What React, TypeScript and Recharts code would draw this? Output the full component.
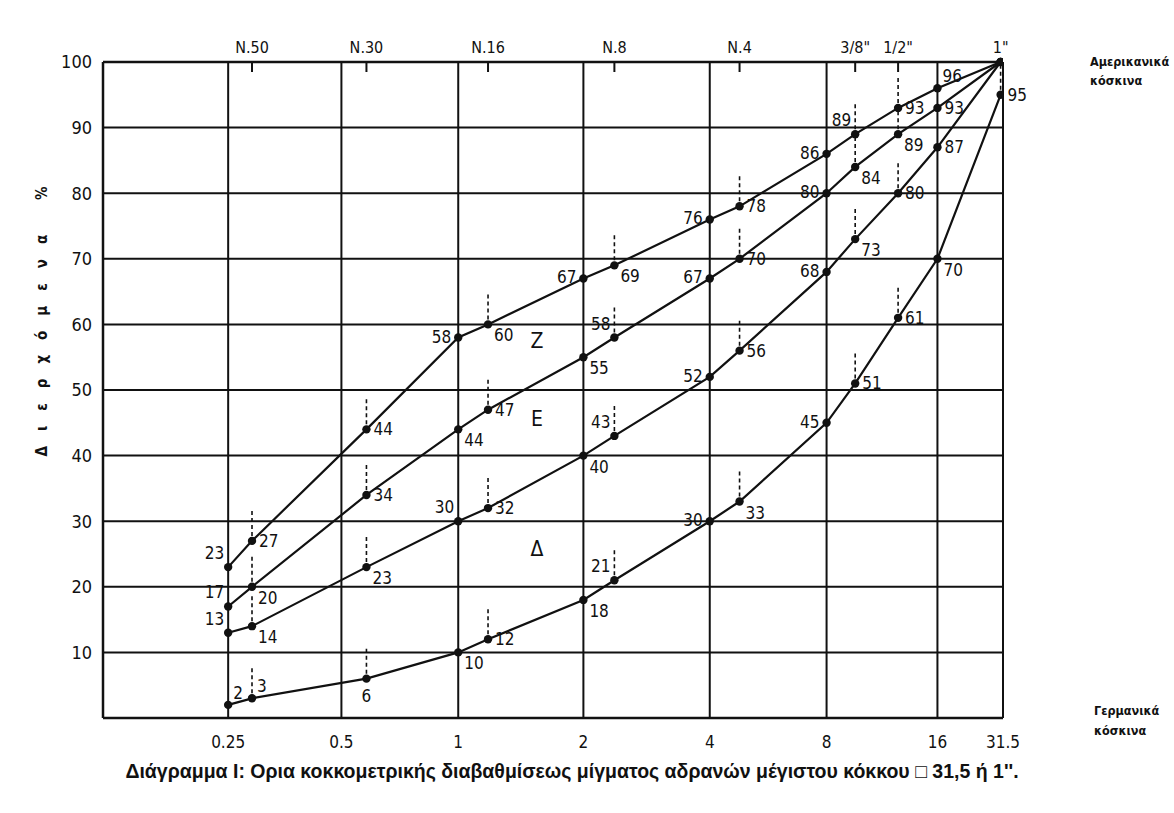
import { LineChart, Line, XAxis, YAxis, CartesianGrid, ReferenceDot } from 'recharts';

// German sieves (mm) along the bottom, and their place on the drawn (hand-made, log-like) axis
const DE_LABELS = ['0.25', '0.5', '1', '2', '4', '8', '16', '31.5'];
const DE_POS = [1.05, 2, 2.98, 4.03, 5.09, 6.07, 7, 7.55];

// American sieves along the top
const US_LABELS = ['N.50', 'N.30', 'N.16', 'N.8', 'N.4', '3/8"', '1/2"', '1"'];
const US_POS = [1.25, 2.21, 3.23, 4.29, 5.34, 6.31, 6.67, 7.53];

const Y_TICKS = [0, 10, 20, 30, 40, 50, 60, 70, 80, 90, 100];

// sieve of every point on the curves, left to right
const POINT_SIEVES = ['0.25', 'N.50', 'N.30', '1', 'N.16', '2', 'N.8', '4', 'N.4', '8', '3/8"', '1/2"', '16', '1"'];

// % passing for the four limit curves (top to bottom)
const CURVE_1 = [23, 27, 44, 58, 60, 67, 69, 76, 78, 86, 89, 93, 96, 100];
const CURVE_2 = [17, 20, 34, 44, 47, 55, 58, 67, 70, 80, 84, 89, 93, 100];
const CURVE_3 = [13, 14, 23, 30, 32, 40, 43, 52, 56, 68, 73, 80, 87, 100];
const CURVE_4 = [2, 3, 6, 10, 12, 18, 21, 30, 33, 45, 51, 61, 70, 95];

// zone letters between the curves
const ZONES = [
  { name: 'Z', x: 3.64, y: 57.5 },
  { name: 'E', x: 3.64, y: 45.7 },
  { name: 'Δ', x: 3.64, y: 25.8 },
];

// where each point's number sits (L left, R right, A above, B below)
const LABEL_PLACEMENT: Record<string, string[]> = {
  c1: ['LA', 'R', 'R', 'L', 'RB', 'L', 'RB', 'L', 'R', 'L', 'LA', 'R', 'RA', '-'],
  c2: ['LA', 'RB', 'R', 'RB', 'R', 'RB', 'LA', 'L', 'R', 'L', 'RB', 'RB', 'R', '-'],
  c3: ['LA', 'RB', 'RB', 'LA', 'R', 'RB', 'LA', 'L', 'R', 'L', 'RB', 'R', 'R', '-'],
  c4: ['RA', 'RA', 'B', 'RB', 'R', 'RB', 'LA', 'L', 'RB', 'L', 'R', 'R', 'RB', 'R'],
};

const sievePos = (s: string) => {
  const d = DE_LABELS.indexOf(s);
  if (d >= 0) return DE_POS[d];
  return US_POS[US_LABELS.indexOf(s)];
};

const data = POINT_SIEVES.map((s, i) => ({
  sieve: s,
  x: sievePos(s),
  c1: CURVE_1[i],
  c2: CURVE_2[i],
  c3: CURVE_3[i],
  c4: CURVE_4[i],
}));

const FONT = "'DejaVu Sans Condensed', 'Liberation Sans Narrow', Roboto, sans-serif";
const INK = '#111';

const renderDot = (props: any) => {
  const { cx, cy, index, payload, dataKey, value } = props;
  const v = Array.isArray(value) ? value[1] : value;
  const stub = US_LABELS.includes(payload.sieve) && v < 100;
  return (
    <g key={`${dataKey}-${index}`}>
      {stub && (
        <line x1={cx} x2={cx} y1={cy - 5} y2={cy - 30} stroke={INK} strokeWidth={1.6} strokeDasharray="4 3" />
      )}
      <circle cx={cx} cy={cy} r={4.2} fill={INK} />
    </g>
  );
};

const makeLabel = (key: string) => (props: any) => {
  const { x, y, value, index } = props;
  const place = LABEL_PLACEMENT[key][index];
  if (!place || place === '-') return null;
  let dx = 0, dy = 0, anchor: 'start' | 'end' | 'middle' = 'start';
  switch (place) {
    case 'L': dx = -7; dy = 5; anchor = 'end'; break;
    case 'LA': dx = -4; dy = -8; anchor = 'end'; break;
    case 'R': dx = 7; dy = 6; anchor = 'start'; break;
    case 'RB': dx = 6; dy = 17; anchor = 'start'; break;
    case 'RA': dx = 5; dy = -6; anchor = 'start'; break;
    case 'B': dx = 0; dy = 23; anchor = 'middle'; break;
    default: break;
  }
  return (
    <text key={`${key}-l-${index}`} x={x + dx} y={y + dy} textAnchor={anchor} fontSize={17} fontFamily={FONT} fill={INK}>
      {value}
    </text>
  );
};

const UsTick = (props: any) => {
  const { x, y, payload, index } = props;
  const i = typeof index === 'number' ? index : US_POS.indexOf(payload.value);
  return (
    <g>
      <text x={x} y={y - 9} textAnchor="middle" fontSize={16} fontFamily={FONT} fill={INK}>
        {US_LABELS[i]}
      </text>
      {i < US_LABELS.length - 1 && (
        <line x1={x} x2={x} y1={y} y2={y + 10} stroke={INK} strokeWidth={2} />
      )}
    </g>
  );
};

export default function App() {
  const series = ['c1', 'c2', 'c3', 'c4'];
  return (
    <div style={{ position: 'absolute', left: 0, top: 0, width: 1174, height: 813, background: '#fff' }}>
      <LineChart width={1174} height={813} data={data} margin={{ top: 32, right: 171, bottom: 65, left: 53 }}>
        <CartesianGrid xAxisId="de" stroke={INK} strokeWidth={2} />
        <XAxis
          xAxisId="de"
          dataKey="x"
          type="number"
          domain={[0, 7.55]}
          ticks={[0, ...DE_POS]}
          tickFormatter={(v: number) => (v === 0 ? '' : DE_LABELS[DE_POS.indexOf(v)])}
          tickLine={false}
          tickMargin={12}
          axisLine={{ stroke: INK, strokeWidth: 2.5 }}
          tick={{ fontSize: 17, fontFamily: FONT, fill: INK }}
          height={30}
          allowDataOverflow
        />
        <XAxis
          xAxisId="us"
          dataKey="x"
          orientation="top"
          type="number"
          domain={[0, 7.55]}
          ticks={US_POS}
          tick={<UsTick />}
          tickLine={false}
          tickSize={0}
          tickMargin={0}
          axisLine={{ stroke: INK, strokeWidth: 2.5 }}
          height={30}
          interval={0}
          allowDataOverflow
        />
        <YAxis
          type="number"
          domain={[0, 100]}
          ticks={Y_TICKS}
          tickFormatter={(v: number) => (v === 0 ? '' : String(v))}
          tickLine={false}
          tickMargin={5}
          axisLine={{ stroke: INK, strokeWidth: 2.5 }}
          tick={{ fontSize: 18, fontFamily: FONT, fill: INK }}
          width={50}
        />
        {series.map((k) => (
          <Line
            key={k}
            xAxisId="de"
            type="linear"
            dataKey={k}
            stroke={INK}
            strokeWidth={2.2}
            dot={renderDot}
            activeDot={false}
            label={makeLabel(k)}
            isAnimationActive={false}
          />
        ))}
        {ZONES.map((z) => (
          <ReferenceDot
            key={z.name}
            xAxisId="de"
            x={z.x}
            y={z.y}
            r={0}
            fill="none"
            stroke="none"
            label={{ value: z.name, position: 'center', fontSize: 21, fontFamily: FONT, fill: INK }}
          />
        ))}
      </LineChart>

      <div
        style={{
          position: 'absolute', left: 42, top: 314, transform: 'translate(-50%, -50%) rotate(-90deg)',
          whiteSpace: 'nowrap', fontFamily: FONT, fontWeight: 700, fontSize: 15, letterSpacing: 15, color: INK,
        }}
      >
        Διερχόμενα %
      </div>
      <div style={{ position: 'absolute', left: 1090, top: 52, fontFamily: FONT, fontWeight: 700, fontSize: 12.5, lineHeight: '19px', color: INK }}>
        Αμερικανικά<br />κόσκινα
      </div>
      <div style={{ position: 'absolute', left: 1094, top: 701, fontFamily: FONT, fontWeight: 700, fontSize: 12.5, lineHeight: '20px', color: INK }}>
        Γερμανικά<br />κόσκινα
      </div>
      <div
        style={{
          position: 'absolute', left: 0, width: 1144, top: 760, textAlign: 'center', whiteSpace: 'nowrap',
          fontFamily: "'Liberation Sans Narrow', 'Liberation Sans', Arial, sans-serif", fontWeight: 700, fontSize: 19.5, color: INK,
        }}
      >
        Διάγραμμα I: Ορια κοκκομετρικής διαβαθμίσεως μίγματος αδρανών μέγιστου κόκκου □ 31,5 ή 1''.
      </div>
    </div>
  );
}
